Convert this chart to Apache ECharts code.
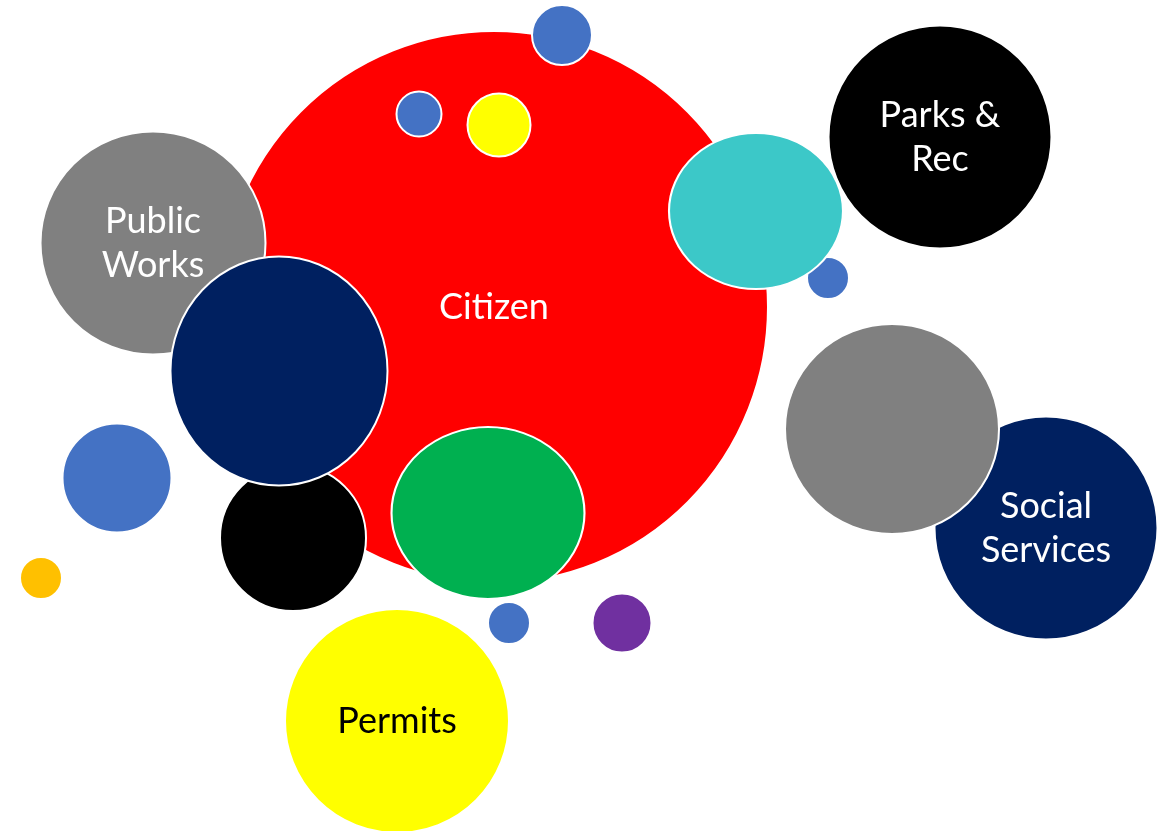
<!DOCTYPE html>
<html>
<head>
<meta charset="utf-8">
<script src="https://cdn.jsdelivr.net/npm/echarts@6/dist/echarts.min.js"></script>
<style>
  html, body { margin: 0; padding: 0; background: #fff; }
  #chart { width: 1163px; height: 831px; }
</style>
</head>
<body>
<div id="chart"></div>
<script>
// bubbles, listed back to front
const names  = ['Citizen', 'Parks & Rec', 'blue right', 'cyan', 'blue top', 'blue inner', 'yellow small',
                'Public Works', 'black', 'navy', 'green', 'Social Services', 'gray right',
                'blue left', 'orange', 'blue bottom', 'purple', 'Permits'];
const xVals  = [494, 940, 828, 756, 562, 419, 499, 153, 293, 279, 488, 1046, 892, 117, 41, 509, 622, 397];
const yVals  = [307, 137, 278, 211, 35, 114, 125, 243, 538, 371, 513, 528, 429, 478, 578, 623, 623, 721];
const widths = [548, 223, 42, 174, 60, 45, 63, 225, 146, 217, 193, 223, 214, 109, 42, 42, 59, 224];
const heights= [552, 223, 42, 156, 60, 45, 63, 223, 146, 229, 172, 223, 210, 109, 42, 42, 59, 224];
const labels = ['Citizen', 'Parks &\nRec', '', '', '', '', '', 'Public\nWorks', '', '', '',
                'Social\nServices', '', '', '', '', '', 'Permits'];

const colors = ['#FF0000', '#000000', '#4472C4', '#3CC8C8', '#4472C4', '#4472C4', '#FFFF00',
                '#808080', '#000000', '#002060', '#00B050', '#002060', '#808080',
                '#4472C4', '#FFC000', '#4472C4', '#7030A0', '#FFFF00'];
const textColors = { 'Permits': '#000000' };

const ellipse = 'path://M0,50 A50,50 0 1,1 100,50 A50,50 0 1,1 0,50 Z';

let myChart = echarts.init(document.getElementById('chart'));

myChart.setOption({
  animation: false,
  backgroundColor: '#ffffff',
  grid: { left: 0, right: 0, top: 0, bottom: 0 },
  xAxis: { type: 'value', min: 0, max: 1163, show: false },
  yAxis: { type: 'value', min: 0, max: 831, inverse: true, show: false },
  series: [{
    type: 'scatter',
    symbol: ellipse,
    symbolSize: function (v) { return [v[2], v[3]]; },
    data: names.map(function (n, i) {
      return {
        name: n,
        value: [xVals[i], yVals[i], widths[i], heights[i]],
        itemStyle: { color: colors[i], borderColor: '#ffffff', borderWidth: 2, opacity: 1 },
        label: {
          show: labels[i] !== '',
          formatter: labels[i],
          position: 'inside',
          color: textColors[n] || '#ffffff',
          fontFamily: 'Lato',
          fontSize: 36,
          lineHeight: 44
        }
      };
    }),
    emphasis: { disabled: true }
  }]
});
</script>
</body>
</html>
